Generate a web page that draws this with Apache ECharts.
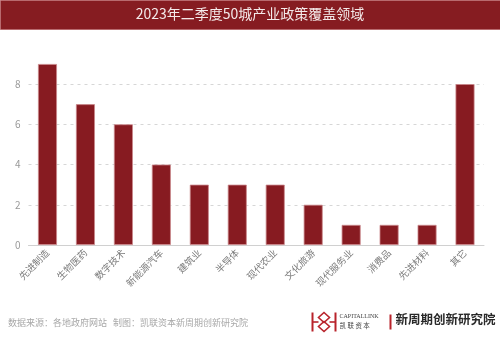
<!DOCTYPE html>
<html>
<head>
<meta charset="utf-8">
<script src="https://cdn.jsdelivr.net/npm/echarts@6/dist/echarts.min.js"></script>
<style>
  html, body { margin: 0; padding: 0; background: #fff; }
  #chart { width: 500px; height: 340px; }
</style>
</head>
<body>
<div id="chart"></div>
<script>
// Policy coverage by industry, Q2 2023, 50 cities
const categories = ['先进制造', '生物医药', '数字技术', '新能源汽车', '建筑业', '半导体',
  '现代农业', '文化旅游', '现代服务业', '消费品', '先进材料', '其它'];
const counts = [9, 7, 6, 4, 3, 3, 3, 2, 1, 1, 1, 8];
const yTicks = [0, 2, 4, 6, 8];

const titleText = '2023年二季度50城产业政策覆盖领域';
const sourceText = '数据来源：各地政府网站   制图：凯联资本新周期创新研究院';
const brandText = '新周期创新研究院';

const RED = '#861c21';
const font = '"Noto Sans CJK SC", "Noto Sans", sans-serif';
const GRID_GRAY = '#d6d6d6';

const chart = echarts.init(document.getElementById('chart'));
chart.setOption({
  animation: false,
  backgroundColor: '#fff',
  grid: { left: 28.5, right: 16, top: 64, bottom: 95 },
  xAxis: {
    type: 'category',
    data: categories,
    axisLine: { lineStyle: { color: '#d0d0d0', width: 1 } },
    axisTick: { alignWithLabel: true, length: 3, lineStyle: { color: '#d0d0d0' } },
    axisLabel: {
      rotate: 45, color: '#7a7a7a', fontSize: 9.5, fontFamily: font, margin: 6, interval: 0
    }
  },
  yAxis: {
    type: 'value',
    min: 0, max: 9, interval: 2,
    axisLine: { show: false },
    axisTick: { show: false },
    axisLabel: {
      color: '#999', fontSize: 10, fontFamily: font, margin: 8,
      formatter: v => (yTicks.includes(v) ? String(v) : '')
    },
    // gridlines at 0..8; the extra line at the axis max stays invisible
    splitLine: {
      lineStyle: {
        color: [GRID_GRAY, GRID_GRAY, GRID_GRAY, GRID_GRAY, GRID_GRAY, 'rgba(0,0,0,0)'],
        type: [3, 4], width: 1
      }
    }
  },
  series: [{
    type: 'bar',
    data: counts,
    barWidth: '50%',
    itemStyle: { color: '#871b21', borderColor: '#c9868a', borderWidth: 0.8 }
  }],
  graphic: [
    // title banner
    { type: 'rect', left: 0, top: 0, shape: { width: 500, height: 29 },
      style: { fill: RED, stroke: '#b86a6e', lineWidth: 1 }, z: 10 },
    { type: 'text', left: 'center', top: 7, z: 11,
      style: { text: titleText, fill: '#f4eaea', font: '14px ' + font } },
    // footer source note
    { type: 'text', left: 8, top: 318, z: 11,
      style: { text: sourceText, fill: '#a8a8a8', font: '9px ' + font } },
    // brand mark
    { type: 'group', left: 310, top: 310, z: 11, children: [
      { type: 'polyline', shape: { points: [[1, 1], [1, 20]] }, style: { stroke: '#b8232b', lineWidth: 2 } },
      { type: 'polyline', shape: { points: [[24, 1], [24, 20]] }, style: { stroke: '#b8232b', lineWidth: 2 } },
      { type: 'polygon', shape: { points: [[12.5, 1], [18, 6], [12.5, 11], [7, 6]] }, style: { fill: 'none', stroke: '#b8232b', lineWidth: 1.6 } },
      { type: 'polygon', shape: { points: [[12.5, 10], [18, 15], [12.5, 20], [7, 15]] }, style: { fill: 'none', stroke: '#b8232b', lineWidth: 1.6 } },
      { type: 'polyline', shape: { points: [[1, 10.5], [7, 10.5]] }, style: { stroke: '#b8232b', lineWidth: 1.6 } },
      { type: 'polyline', shape: { points: [[18, 10.5], [24, 10.5]] }, style: { stroke: '#b8232b', lineWidth: 1.6 } },
      { type: 'text', left: 28, top: 2, style: { text: 'CAPITALLINK', fill: '#444', font: '6px "Liberation Serif", serif' } },
      { type: 'text', left: 28, top: 11, style: { text: '凯 联 资 本', fill: '#444', font: '6.5px "Noto Sans CJK SC", sans-serif' } },
      { type: 'rect', shape: { x: 78, y: 3, width: 2, height: 15 }, style: { fill: '#b8232b' } },
      { type: 'text', left: 84, top: 1, style: { text: brandText, fill: '#2a2a2a', font: 'bold 12.5px "Noto Sans CJK SC", sans-serif' } }
    ] }
  ]
});
</script>
</body>
</html>
